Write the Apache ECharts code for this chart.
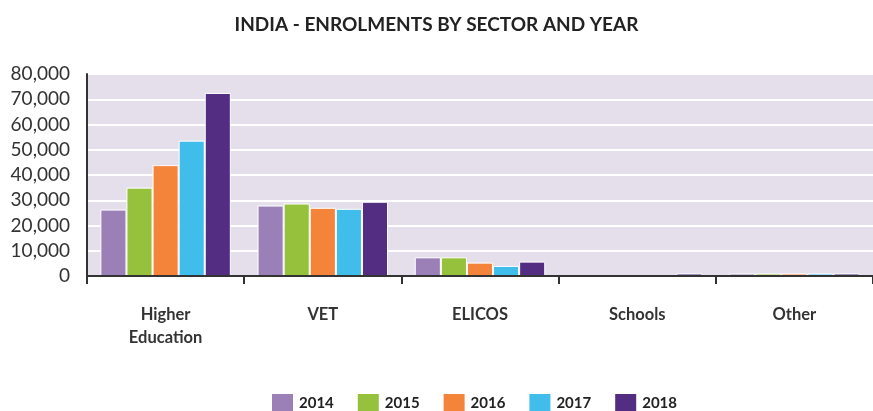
<!DOCTYPE html>
<html>
<head>
<meta charset="utf-8">
<script src="https://cdn.jsdelivr.net/npm/echarts@6/dist/echarts.min.js"></script>
<style>
  html, body { margin: 0; padding: 0; background: #fff; }
  #chart { width: 873px; height: 411px; }
</style>
</head>
<body>
<div id="chart"></div>
<script>
  // sectors along the x axis
  var sectors = ['Higher\nEducation', 'VET', 'ELICOS', 'Schools', 'Other'];
  var years = ['2014', '2015', '2016', '2017', '2018'];

  // enrolments per year, in sector order
  var y2014 = [26300, 27900, 7400, 100, 1000];
  var y2015 = [35000, 28700, 7400, 100, 1000];
  var y2016 = [43900, 27000, 5300, 150, 1000];
  var y2017 = [53600, 26600, 4000, 200, 1000];
  var y2018 = [72500, 29400, 5700, 1000, 1000];

  var yTicks = [0, 10000, 20000, 30000, 40000, 50000, 60000, 70000, 80000];

  var colors = ['#9b80b8', '#96c13c', '#f5843b', '#40bdeb', '#522d82'];
  var values = [y2014, y2015, y2016, y2017, y2018];

  var chart = echarts.init(document.getElementById('chart'));

  var series = years.map(function (y, i) {
    return {
      name: y,
      type: 'bar',
      data: values[i],
      barGap: '0%',
      barCategoryGap: '17%',
      itemStyle: { color: colors[i], borderColor: '#fff', borderWidth: 1 }
    };
  });

  chart.setOption({
    textStyle: { fontFamily: 'Lato' },
    color: colors,
    title: {
      text: 'INDIA - ENROLMENTS BY SECTOR AND YEAR',
      left: 'center',
      top: 10,
      textStyle: { fontSize: 19, fontWeight: 'bold', color: '#222', fontFamily: 'Lato' }
    },
    legend: {
      top: 387,
      left: 265,
      itemWidth: 23,
      itemHeight: 20,
      itemGap: 22,
      icon: 'rect',
      textStyle: { fontSize: 15, fontWeight: 'bold', color: '#222', fontFamily: 'Lato' },
      data: years
    },
    grid: {
      left: 87,
      right: 0,
      top: 74,
      bottom: 135,
      show: true,
      backgroundColor: '#e4dfeb',
      borderWidth: 0
    },
    xAxis: {
      type: 'category',
      data: sectors,
      z: 5,
      axisLine: { lineStyle: { color: '#333', width: 2 } },
      axisTick: { show: true, interval: 0, length: 8, lineStyle: { color: '#333', width: 2 } },
      axisLabel: {
        interval: 0,
        margin: 27,
        fontSize: 16.5,
        fontWeight: 'bold',
        color: '#333',
        lineHeight: 23,
        fontFamily: 'Lato'
      }
    },
    yAxis: {
      type: 'value',
      min: yTicks[0],
      max: yTicks[yTicks.length - 1],
      interval: 10000,
      axisLine: { show: true, lineStyle: { color: '#333', width: 2 } },
      axisTick: { show: false },
      splitLine: { lineStyle: { color: '#fff', width: 2 } },
      axisLabel: {
        margin: 17,
        fontSize: 19,
        color: '#333',
        fontFamily: 'Lato',
        formatter: function (v) { return v.toLocaleString('en-US'); }
      }
    },
    series: series
  });
</script>
</body>
</html>
